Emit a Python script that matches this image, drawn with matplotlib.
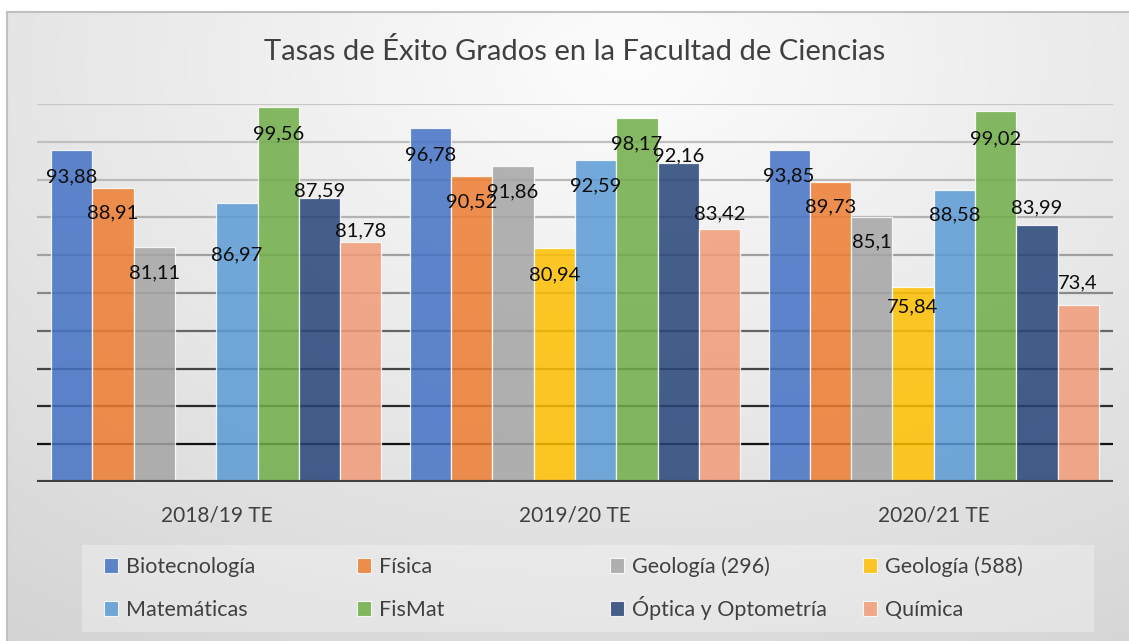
import numpy as np
import matplotlib
matplotlib.use("Agg")
import matplotlib.pyplot as plt
from matplotlib.patches import Rectangle

# ---- data ----
categories = ["2018/19 TE", "2019/20 TE", "2020/21 TE"]
series_names = ["Biotecnología", "Física", "Geología (296)", "Geología (588)",
                "Matemáticas", "FisMat", "Óptica y Optometría", "Química"]
biotecnologia = [93.88, 96.78, 93.85]
fisica = [88.91, 90.52, 89.73]
geologia_296 = [81.11, 91.86, 85.1]
geologia_588 = [np.nan, 80.94, 75.84]
matematicas = [86.97, 92.59, 88.58]
fismat = [99.56, 98.17, 99.02]
optica = [87.59, 92.16, 83.99]
quimica = [81.78, 83.42, 73.4]
series_values = [biotecnologia, fisica, geologia_296, geologia_588,
                 matematicas, fismat, optica, quimica]

# ---- style ----
colors = ["#4472C4", "#ED7D31", "#A5A5A5", "#FFC000",
          "#5B9BD5", "#70AD47", "#264478", "#F29C78"]
# label vertical offsets (pixels, relative to bar top) per series, per category
label_dy = [[-27, -27, -25], [-25, -26, -25], [-26, -26, -25], [0, -27, -20],
            [-52, -26, -25], [-27, -26, -27], [7, 7, 17], [11, 15, 22]]

W, H, DPI = 1129, 641, 100
plt.rcParams['font.family'] = ['Lato', 'DejaVu Sans']
fig = plt.figure(figsize=(W / DPI, H / DPI), dpi=DPI)
fig.patch.set_facecolor("white")

# background gradient
bg = fig.add_axes([7 / W, 0, 1 - 7 / W, 1 - 12 / H], zorder=-10)
yy, xx = np.mgrid[0:H - 12, 0:W - 7]
cx, cy = 620, 50
d = np.sqrt(((xx - cx) / 1.5) ** 2 + (yy - cy) ** 2)
val = np.clip(253 - 0.058 * d, 200, 253) / 255.0
bg.imshow(np.dstack([val, val, val]), aspect='auto', interpolation='bilinear',
          extent=[0, 1, 0, 1], origin='upper')
bg.set_xlim(0, 1); bg.set_ylim(0, 1)
bg.axis('off')
# border
fig.add_artist(plt.Line2D([7 / W, 7 / W], [0, 1 - 12 / H], color="#c0c0c0", lw=1.5))
fig.add_artist(plt.Line2D([7 / W, 1], [1 - 12 / H, 1 - 12 / H], color="#c0c0c0", lw=1.5))

ax = fig.add_axes([37 / W, (H - 482) / H, 1076 / W, (482 - 104) / H])
ax.patch.set_alpha(0)
ax.set_ylim(50, 100)
ax.set_xlim(-0.5, len(categories) - 0.5)

# gridlines with gradient colour
grid_vals = np.arange(55, 101, 5)
grid_cols = {100: "#c8c8c8", 95: "#c0c0c0", 90: "#bababa", 85: "#b2b2b2",
             80: "#a0a0a0", 75: "#888888", 70: "#666666", 65: "#444444",
             60: "#2a2a2a", 55: "#111111"}
for g in grid_vals:
    ax.axhline(g, color=grid_cols[int(g)], lw=1.6, zorder=1)
ax.axhline(50, color="#404040", lw=3, zorder=4)

n = len(series_names)
bw = 0.921 / n
x = np.arange(len(categories))
for i, (name, vals, c) in enumerate(zip(series_names, series_values, colors)):
    xs = x - 0.921 / 2 + bw * (i + 0.5)
    heights = np.array(vals, dtype=float) - 50
    ax.bar(xs, heights, bw, bottom=50, color=c, alpha=0.85,
           edgecolor=(1, 1, 1, 0.55), linewidth=0.9, label=name, zorder=2)
    for j, v in enumerate(vals):
        if np.isnan(v):
            continue
        txt = f"{v:g}".replace(".", ",")
        ax.annotate(txt, (xs[j], v), xytext=(0, label_dy[i][j] * 0.72),
                    textcoords="offset points", ha="center", va="center",
                    fontsize=14.5, color="#0d0d0d", zorder=5)

ax.set_xticks(x)
ax.set_xticklabels(categories, fontsize=15, color="#404040")
ax.tick_params(axis='x', length=0, pad=17)
ax.set_yticks([])
for s in ax.spines.values():
    s.set_visible(False)

fig.text((37 + 1113) / 2 / W, 1 - 52 / H, "Tasas de Éxito Grados en la Facultad de Ciencias",
         ha="center", va="center", fontsize=21, color="#404040")

# legend box
fig.add_artist(Rectangle((82 / W, (H - 632) / H), (1094 - 82) / W, 87 / H,
                         transform=fig.transFigure, facecolor="white", alpha=0.3,
                         edgecolor="none", zorder=1))
handles = [Rectangle((0, 0), 1, 1, facecolor=c, alpha=0.85,
                     edgecolor=(1, 1, 1, 0.6), lw=0.8) for c in colors]
col_x = [104, 357, 610, 863]
row_bottom = [577, 620]
for m in range(len(series_names)):
    r, k = divmod(m, 4)
    lg = fig.legend([handles[m]], [series_names[m]],
                    loc="lower left", bbox_to_anchor=(col_x[k] / W, 1 - row_bottom[r] / H),
                    bbox_transform=fig.transFigure, fontsize=15.5,
                    frameon=False, handlelength=0.65, handleheight=0.65,
                    handletextpad=0.35, borderaxespad=0, borderpad=0)
    for t in lg.get_texts():
        t.set_color("#404040")

fig.savefig("out.png", dpi=DPI)
